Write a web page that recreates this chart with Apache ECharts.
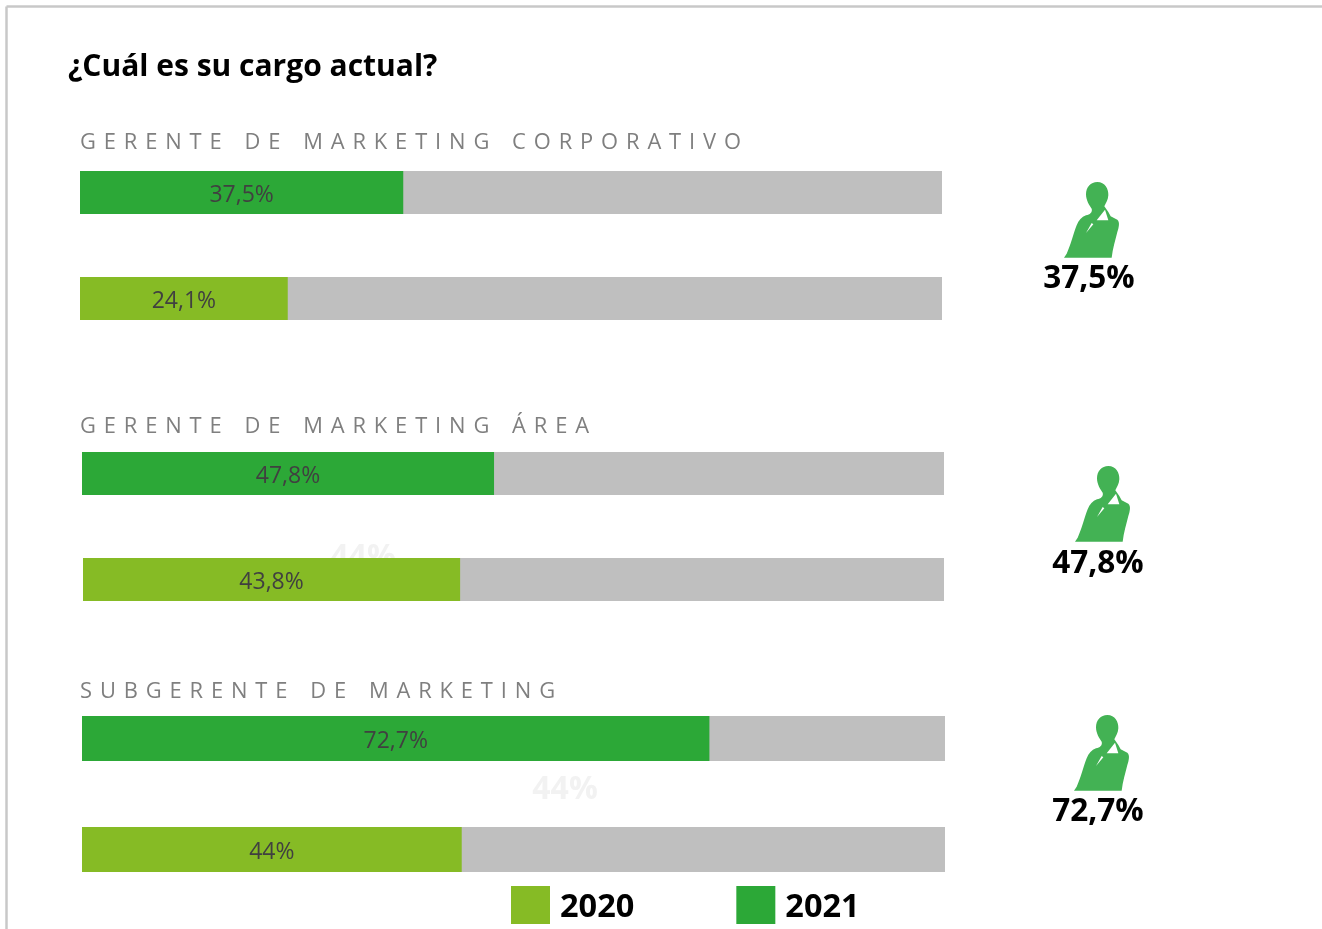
<!DOCTYPE html>
<html>
<head>
<meta charset="utf-8">
<title>¿Cuál es su cargo actual?</title>
<script src="https://cdn.jsdelivr.net/npm/echarts@6/dist/echarts.min.js"></script>
<style>
  html, body { margin: 0; padding: 0; background: #fff; overflow: hidden; }
  #chart { width: 1322px; height: 929px; }
</style>
</head>
<body>
<div id="chart"></div>
<script>
var categories = ["GERENTE DE MARKETING CORPORATIVO", "GERENTE DE MARKETING ÁREA", "SUBGERENTE DE MARKETING"];
var years = ["2020", "2021"];
var values2020 = [24.1, 43.8, 44];
var values2021 = [37.5, 47.8, 72.7];
var ghostLabel = "44%";

var GREEN_2020 = "#86bb25";
var GREEN_2021 = "#2ca837";
var TRACK = "#bfbfbf";
var ICON = "#43b254";
var FONT = "'Open Sans', 'Noto Sans', sans-serif";

// one grid per bar: [left, top, width, height]
var rows2021 = [[80, 171, 862, 43], [82, 452, 862, 43], [82, 716, 863, 45]];
var rows2020 = [[80, 277, 862, 43], [83, 558, 861, 43], [82, 827, 863, 45]];
var titleTops = [141, 425, 690];
var iconPos = [[1064, 182], [1075, 466], [1074, 715]];
var iconLabelPos = [[1089, 279], [1098, 564], [1098, 812]];

// drawn at 3x
var womanPath =
  "M172 35 C195 35 206 55 205 75 C204 90 197 100 193 108 L205 125 L212 138 L232 148 " +
  "C240 155 237 170 232 185 C226 210 218 235 215 262 L72 262 L80 250 " +
  "C92 225 100 190 110 165 C116 150 125 140 138 135 " +
  "C150 133 158 125 155 115 C148 105 138 90 138 72 C138 50 152 35 172 35 Z " +
  "M170 150 L205 150 L195 118 Z M155 158 L138 188 L160 162 Z";
echarts.graphic.registerShape("woman", echarts.graphic.extendPath(womanPath, {}));

function pct(v) {
  return String(v).replace(".", ",") + "%";
}

// canvas text has no letter-spacing
function spaced(s) {
  return s.split(" ").map(function (w) {
    return w.split("").join(" \u200A");
  }).join("    ");
}

var grids = [], xAxes = [], yAxes = [], series = [];

function addBar(name, color, value, row, category) {
  var i = grids.length;
  grids.push({ left: row[0], top: row[1], width: row[2], height: row[3] });
  xAxes.push({ type: "value", gridIndex: i, min: 0, max: 100, show: false });
  yAxes.push({ type: "category", gridIndex: i, data: [category], show: false });
  series.push({
    name: name,
    type: "bar",
    xAxisIndex: i,
    yAxisIndex: i,
    barWidth: row[3],
    data: [value],
    itemStyle: { color: color },
    showBackground: true,
    backgroundStyle: { color: TRACK },
    label: {
      show: true,
      position: "inside",
      offset: [0, 3],
      formatter: function (p) { return pct(p.value); },
      color: "#404040",
      fontFamily: FONT,
      fontSize: 23,
      fontWeight: 400,
    },
    silent: true,
  });
}

categories.forEach(function (c, i) {
  addBar(years[1], GREEN_2021, values2021[i], rows2021[i], c);
  addBar(years[0], GREEN_2020, values2020[i], rows2020[i], c);
});

var titles = [
  {
    text: "¿Cuál es su cargo actual?",
    left: 68,
    top: 52,
    padding: 0,
    textStyle: { color: "#000", fontFamily: FONT, fontWeight: 700, fontSize: 30 },
  },
];
categories.forEach(function (c, i) {
  titles.push({
    text: spaced(c),
    left: 80,
    top: titleTops[i] - 9,
    padding: 0,
    textStyle: { color: "#7f7f7f", fontFamily: FONT, fontWeight: 400, fontSize: 21.9 },
  });
});

var graphics = [
  { type: "line", shape: { x1: 6.5, y1: 6.5, x2: 1322, y2: 6.5 }, style: { stroke: "#c8c8c8", lineWidth: 2.5 } },
  { type: "line", shape: { x1: 6.5, y1: 6.5, x2: 6.5, y2: 929 }, style: { stroke: "#c8c8c8", lineWidth: 2.5 } },
  // faint leftovers behind the bars
  { type: "text", x: 363, y: 558, z: 0, style: { text: ghostLabel, fill: "#f2f2f2", font: "bold 32px " + FONT, textAlign: "center", textVerticalAlign: "middle" } },
  { type: "text", x: 565, y: 790, z: 0, style: { text: ghostLabel, fill: "#f2f2f2", font: "bold 32px " + FONT, textAlign: "center", textVerticalAlign: "middle" } },
];
iconPos.forEach(function (p, i) {
  graphics.push({
    type: "woman",
    x: p[0] - 72 / 3,
    y: p[1] - 35 / 3,
    scaleX: 1 / 3,
    scaleY: 1 / 3,
    style: { fill: ICON },
  });
  graphics.push({
    type: "text",
    x: iconLabelPos[i][0],
    y: iconLabelPos[i][1],
    style: {
      text: pct(values2021[i]),
      fill: "#000",
      font: "bold 31.5px " + FONT,
      textAlign: "center",
      textVerticalAlign: "middle",
    },
  });
});

var chart = echarts.init(document.getElementById("chart"));
chart.setOption({
  animation: false,
  backgroundColor: "#fff",
  title: titles,
  legend: {
    data: years,
    left: 511,
    top: 886,
    padding: 0,
    icon: "rect",
    itemWidth: 39,
    itemHeight: 38,
    itemGap: 102,
    selectedMode: false,
    formatter: "{y|{name}}",
    textStyle: {
      rich: {
        y: {
          color: "#000",
          fontFamily: FONT,
          fontWeight: 700,
          fontSize: 32.5,
          padding: [6, 0, 0, 5],
        },
      },
    },
  },
  grid: grids,
  xAxis: xAxes,
  yAxis: yAxes,
  series: series,
  graphic: graphics,
});
</script>
</body>
</html>
